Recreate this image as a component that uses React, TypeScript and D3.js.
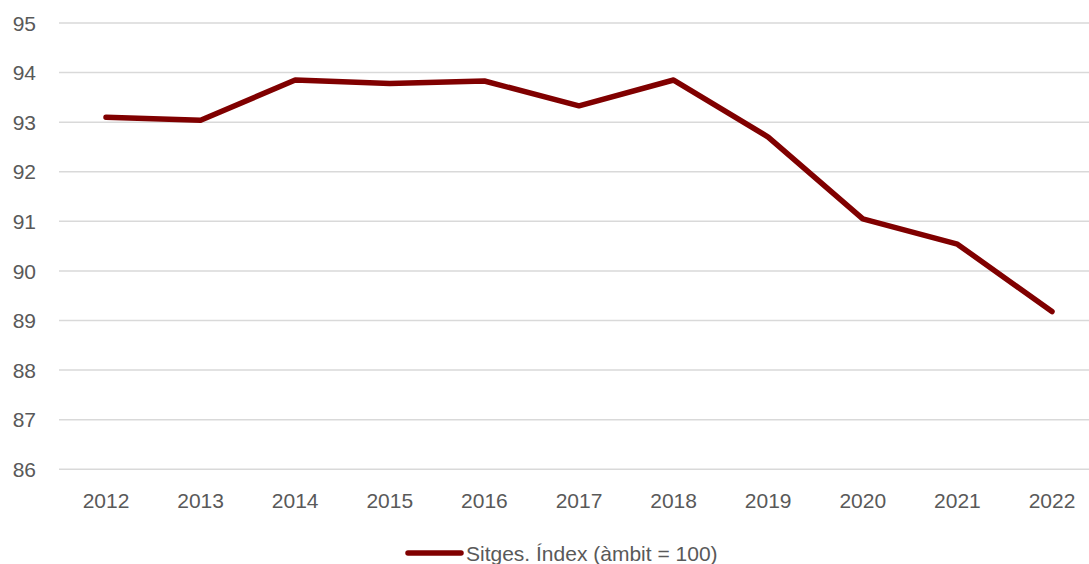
import * as d3 from "d3";

const years = ["2012", "2013", "2014", "2015", "2016", "2017", "2018", "2019", "2020", "2021", "2022"];
const indexValues = [93.1, 93.04, 93.85, 93.78, 93.83, 93.33, 93.85, 92.7, 91.05, 90.54, 89.18];
const yTicks = [86, 87, 88, 89, 90, 91, 92, 93, 94, 95];
const seriesName = "Sitges. Índex (àmbit = 100)";

const W = 1089;
const H = 564;
const lineColor = "#800000";
const textColor = "#595959";
const font = "'Liberation Sans', Arial, sans-serif";

export default function App() {
  const x = d3.scaleBand().domain(years).range([58.7, 1099.3]);
  const y = d3.scaleLinear().domain([86, 95]).range([469.3, 23]);

  const cx = (d: string) => (x(d) ?? 0) + x.bandwidth() / 2;

  const line = d3
    .line<number>()
    .x((_, i) => cx(years[i]))
    .y((v) => y(v));

  return (
    <svg
      width={W}
      height={H}
      style={{ position: "absolute", left: 0, top: 0, background: "#fff" }}
      fontFamily={font}
    >
      {/* gridlines + y labels */}
      {yTicks.map((t) => (
        <g key={t}>
          <line x1={59} x2={W} y1={y(t)} y2={y(t)} stroke="#d9d9d9" strokeWidth={1.5} />
          <text x={36} y={y(t)} dy="0.36em" textAnchor="end" fontSize={21} fill={textColor}>
            {t}
          </text>
        </g>
      ))}

      {/* x labels */}
      {years.map((yr) => (
        <text key={yr} x={cx(yr)} y={508} textAnchor="middle" fontSize={21} fill={textColor}>
          {yr}
        </text>
      ))}

      <path
        d={line(indexValues) ?? ""}
        fill="none"
        stroke={lineColor}
        strokeWidth={5.5}
        strokeLinejoin="round"
        strokeLinecap="round"
      />

      {/* legend */}
      <line x1={408} x2={461} y1={553} y2={553} stroke={lineColor} strokeWidth={5.5} strokeLinecap="round" />
      <text x={466} y={561} fontSize={21} fill={textColor}>
        {seriesName}
      </text>
    </svg>
  );
}
